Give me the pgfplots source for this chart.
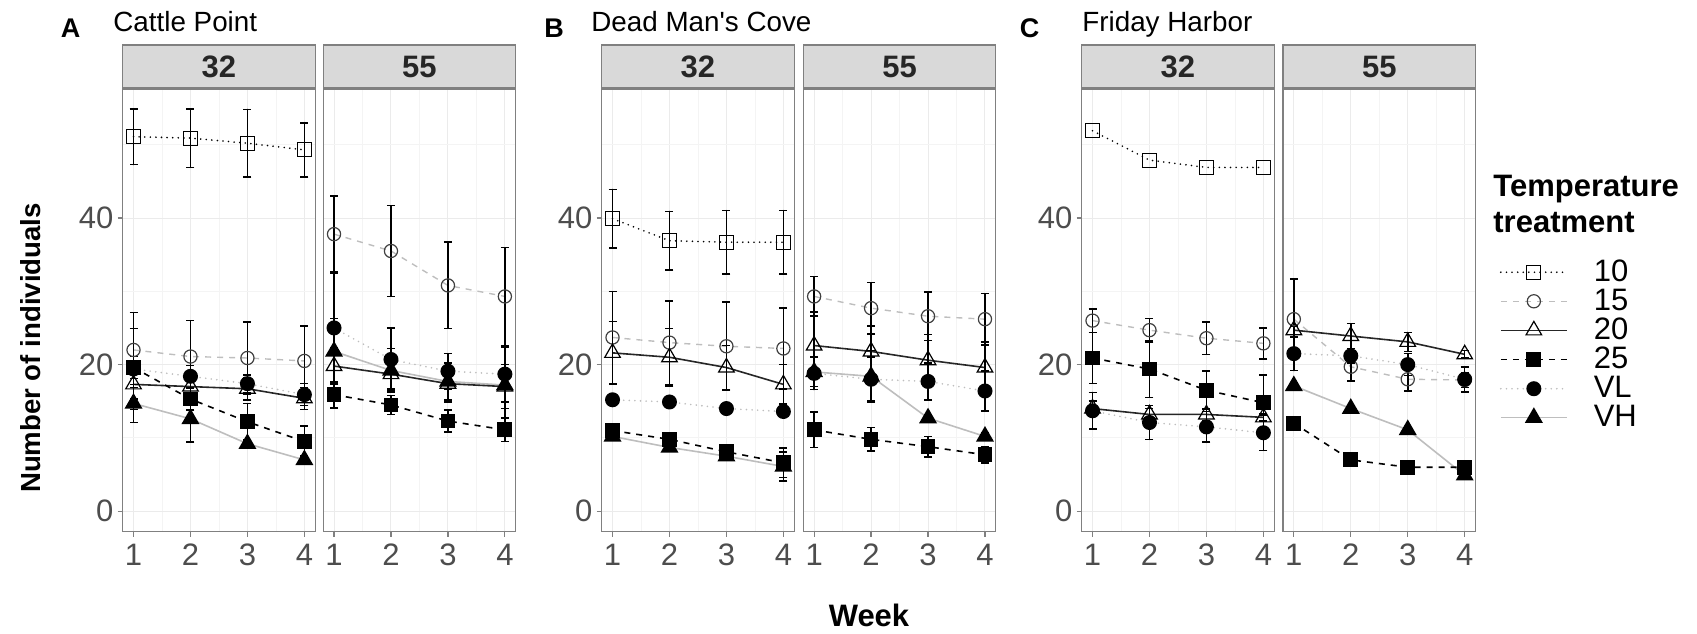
\documentclass[border=0pt]{standalone}
\usepackage{fontspec}
\setmainfont{Liberation Sans}[Ligatures=TeXOff]
\usepackage{pgfplots}
\pgfplotsset{compat=1.18}

\definecolor{framegray}{RGB}{128,128,128}
\definecolor{stripfill}{RGB}{217,217,217}
\definecolor{gridmaj}{RGB}{235,235,235}
\definecolor{gridmin}{RGB}{244,244,244}
\definecolor{lightline}{RGB}{190,190,190}
\definecolor{tickgray}{RGB}{77,77,77}
\newcommand{\fs}[1]{\fontsize{#1}{#1}\selectfont}

\pgfplotsset{
  panel/.style={
    scale only axis, width=96.25pt, height=221.35pt,
    anchor=south west,
    xmin=0.81, xmax=4.19, ymin=-2.8, ymax=57.6,
    xtick={1,2,3,4}, ytick={0,20,40},
    minor xtick={1.5,2.5,3.5}, minor ytick={10,30,50},
    grid=both,
    major grid style={draw=gridmaj, line width=0.5pt},
    minor grid style={draw=gridmin, line width=0.4pt},
    axis line style={draw=framegray, line width=0.6pt},
    tick style={draw=framegray, line width=0.6pt},
    tick align=outside, major tick length=2.5pt, minor tick length=0pt,
    tick pos=left,
    ticklabel style={font=\fs{15.5}, text=tickgray},
    yticklabel style={inner xsep=2pt},
    /pgf/number format/assume math mode=true,
  },
  right panel/.style={panel, yticklabels={}, ytick style={draw=none}},
  eb/.style={error bars/.cd, y dir=both, y explicit,
    error bar style={line width=0.8pt, black, solid},
    error mark options={rotate=90, line width=0.8pt, black, solid, mark size=2pt}},
  s10/.style={black, line width=0.9pt, line cap=round, dash pattern=on 0pt off 2.8pt,
    mark=square, mark size=3.5pt, mark options={solid, black, line width=0.6pt}},
  s15/.style={lightline, line width=0.7pt, dash pattern=on 3pt off 3pt,
    mark=o, mark size=3.3pt, mark options={solid, draw=black!75, line width=0.6pt}},
  s20/.style={black!85, line width=0.8pt, solid,
    mark=triangle, mark size=4.5pt, mark options={solid, black, line width=0.6pt}},
  s25/.style={black, line width=0.8pt, dash pattern=on 3pt off 3pt,
    mark=square*, mark size=3.3pt, mark options={solid, black, fill=black}},
  sVL/.style={lightline, line width=0.9pt, line cap=round, dash pattern=on 0pt off 2.8pt,
    mark=*, mark size=3.3pt, mark options={solid, black, fill=black}},
  sVH/.style={lightline, line width=0.8pt, solid,
    mark=triangle*, mark size=4.4pt, mark options={solid, black, fill=black}},
}

\begin{document}
\begin{tikzpicture}
\useasboundingbox (0,0) rectangle (848.5pt,-316.5pt);

% ---------- A: Cattle Point ----------
\begin{axis}[panel, name=a1, at={(61.35pt,-265.85pt)}]
\addplot[s10,eb] table[row sep=\\,y error=e]{x y e\\1 51.1 3.8\\2 50.9 4.0\\3 50.2 4.6\\4 49.3 3.7\\};
\addplot[s15,eb] table[row sep=\\,y error=e]{x y e\\1 22.0 5.1\\2 21.1 4.9\\3 20.9 4.9\\4 20.5 4.8\\};
\addplot[s20,eb] table[row sep=\\,y error=e]{x y e\\1 17.3 2.0\\2 17.0 1.5\\3 16.7 1.5\\4 15.4 1.5\\};
\addplot[s25,eb] table[row sep=\\,y error=e]{x y e\\1 19.6 1.5\\2 15.3 1.5\\3 12.2 2.5\\4 9.5 2.1\\};
\addplot[sVL,eb] table[row sep=\\,y error=e]{x y e\\1 19.4 5.5\\2 18.4 1.5\\3 17.4 1.2\\4 15.9 1.5\\};
\addplot[sVH,eb] table[row sep=\\,y error=e]{x y e\\1 14.7 2.6\\2 12.6 3.2\\3 9.2 0.5\\4 7.0 0.5\\};
\end{axis}
\begin{axis}[right panel, name=a2, at={(161.6pt,-265.85pt)}]
\addplot[s15,eb] table[row sep=\\,y error=e]{x y e\\1 37.8 5.2\\2 35.5 6.2\\3 30.8 5.9\\4 29.3 6.7\\};
\addplot[sVL,eb] table[row sep=\\,y error=e]{x y e\\1 25.0 7.5\\2 20.7 4.3\\3 19.1 2.4\\4 18.7 3.8\\};
\addplot[sVH,eb] table[row sep=\\,y error=e]{x y e\\1 21.8 4.5\\2 19.2 3.0\\3 17.7 2.5\\4 17.2 5.2\\};
\addplot[s20,eb] table[row sep=\\,y error=e]{x y e\\1 19.8 2.5\\2 18.7 2.0\\3 17.4 2.5\\4 17.0 3.0\\};
\addplot[s25,eb] table[row sep=\\,y error=e]{x y e\\1 15.9 1.8\\2 14.5 1.3\\3 12.3 1.5\\4 11.1 1.6\\};
\end{axis}

% ---------- B: Dead Man's Cove ----------
\begin{axis}[panel, name=b1, at={(300.85pt,-265.85pt)}]
\addplot[s10,eb] table[row sep=\\,y error=e]{x y e\\1 39.9 4.0\\2 36.9 4.0\\3 36.7 4.3\\4 36.7 4.3\\};
\addplot[s15,eb] table[row sep=\\,y error=e]{x y e\\1 23.7 6.3\\2 23.0 5.7\\3 22.5 6.0\\4 22.2 5.5\\};
\addplot[s20,eb] table[row sep=\\,y error=e]{x y e\\1 21.6 4.3\\2 21.0 3.9\\3 19.6 3.0\\4 17.3 2.7\\};
\addplot[sVL,eb] table[row sep=\\,y error=e]{x y e\\1 15.2 0.5\\2 14.9 0.4\\3 14.0 0.4\\4 13.6 0.4\\};
\addplot[s25,eb] table[row sep=\\,y error=e]{x y e\\1 11.0 0.5\\2 9.8 0.5\\3 8.1 0.6\\4 6.6 2.0\\};
\addplot[sVH,eb] table[row sep=\\,y error=e]{x y e\\1 10.2 0.5\\2 8.7 0.5\\3 7.5 0.5\\4 6.1 2.0\\};
\end{axis}
\begin{axis}[right panel, name=b2, at={(401.65pt,-265.85pt)}]
\addplot[s15,eb] table[row sep=\\,y error=e]{x y e\\1 29.3 2.7\\2 27.7 3.5\\3 26.6 3.3\\4 26.2 3.5\\};
\addplot[s20,eb] table[row sep=\\,y error=e]{x y e\\1 22.6 4.6\\2 21.8 3.5\\3 20.6 3.5\\4 19.6 3.5\\};
\addplot[sVL,eb] table[row sep=\\,y error=e]{x y e\\1 18.8 2.2\\2 18.0 3.0\\3 17.7 2.5\\4 16.4 2.7\\};
\addplot[sVH,eb] table[row sep=\\,y error=e]{x y e\\1 19.0 2.0\\2 18.4 3.5\\3 12.7 0.5\\4 10.2 0.5\\};
\addplot[s25,eb] table[row sep=\\,y error=e]{x y e\\1 11.1 2.4\\2 9.8 1.6\\3 8.8 1.4\\4 7.7 1.1\\};
\end{axis}

% ---------- C: Friday Harbor ----------
\begin{axis}[panel, name=c1, at={(540.85pt,-265.85pt)}]
\addplot[s10] table[row sep=\\]{x y\\1 51.9\\2 47.9\\3 46.9\\4 46.9\\};
\addplot[s15,eb] table[row sep=\\,y error=e]{x y e\\1 26.0 1.6\\2 24.7 1.6\\3 23.6 2.2\\4 22.9 2.1\\};
\addplot[s25,eb] table[row sep=\\,y error=e]{x y e\\1 20.9 3.5\\2 19.4 3.9\\3 16.5 2.6\\4 14.8 3.8\\};
\addplot[s20,eb] table[row sep=\\,y error=e]{x y e\\1 14.0 1.0\\2 13.2 0.8\\3 13.2 0.8\\4 12.8 0.5\\};
\addplot[sVL,eb] table[row sep=\\,y error=e]{x y e\\1 13.7 2.5\\2 12.1 2.3\\3 11.5 2.1\\4 10.7 2.4\\};
\end{axis}
\begin{axis}[right panel, name=c2, at={(641.5pt,-265.85pt)},
  legend image code/.code={
    \draw[mark repeat=2, mark phase=2, #1] plot coordinates {(0pt,0pt) (16.5pt,0pt) (33pt,0pt)};},
  legend style={draw=none, fill=none, at={(axis description cs:1.127,0.614)}, anchor=north west,
    inner sep=0pt, outer sep=0pt, row sep=2.3pt, font=\fs{15.5},
    nodes={inner sep=0pt}, cells={anchor=west}},
]
\addlegendimage{s10}
\addlegendimage{s15}
\addlegendimage{s20}
\addlegendimage{s25}
\addlegendimage{sVL}
\addlegendimage{sVH}
\addplot[s15,eb] table[row sep=\\,y error=e]{x y e\\1 26.2 5.5\\2 19.7 1.9\\3 18.0 1.6\\4 17.9 1.0\\};
\addplot[s20,eb] table[row sep=\\,y error=e]{x y e\\1 24.7 0.6\\2 23.9 1.7\\3 23.1 1.3\\4 21.4 0.5\\};
\addplot[sVL,eb] table[row sep=\\,y error=e]{x y e\\1 21.5 2.3\\2 21.2 1.0\\3 20.0 1.5\\4 18.0 1.7\\};
\addplot[sVH] table[row sep=\\]{x y\\1 17.1\\2 14.0\\3 11.1\\4 4.9\\};
\addplot[s25] table[row sep=\\]{x y\\1 12.0\\2 7.0\\3 6.0\\4 6.0\\};
\legend{\hspace*{13pt}10,\hspace*{13pt}15,\hspace*{13pt}20,\hspace*{13pt}25,\hspace*{13pt}VL,\hspace*{13pt}VH}
\end{axis}

% ---------- strips ----------
\foreach \p/\t in {a1/32,a2/55,b1/32,b2/55,c1/32,c2/55}{
  \draw[fill=stripfill, draw=framegray, line width=0.6pt]
    ([yshift=0.5pt]\p.north west) rectangle ([yshift=22pt]\p.north east);
  \node[font=\bfseries\fs{15.5}, text=black!85] at ([yshift=11.25pt]\p.north) {\t};
}

% ---------- titles and labels ----------
\begin{scope}[every node/.style={inner sep=0pt}]
\node[anchor=base west, font=\bfseries\fs{13.5}] at (30.2pt,-18.75pt) {A};
\node[anchor=base west, font=\fs{13.9}] at (56.5pt,-15.8pt) {Cattle Point};
\node[anchor=base west, font=\bfseries\fs{13.5}] at (272pt,-18.75pt) {B};
\node[anchor=base west, font=\fs{13.9}] at (295.5pt,-15.8pt) {Dead Man's Cove};
\node[anchor=base west, font=\bfseries\fs{13.5}] at (509.7pt,-18.75pt) {C};
\node[anchor=base west, font=\fs{13.9}] at (541pt,-15.8pt) {Friday Harbor};

\node[anchor=base west, font=\bfseries\fs{15.5}] at (746.5pt,-98pt) {Temperature};
\node[anchor=base west, font=\bfseries\fs{15.5}] at (746.5pt,-116pt) {treatment};

\node[rotate=90, anchor=base, font=\bfseries\fs{13.8}] at (20pt,-174pt) {Number of individuals};
\node[anchor=base, font=\bfseries\fs{15.5}] at (434.5pt,-313pt) {Week};
\end{scope}
\end{tikzpicture}
\end{document}
